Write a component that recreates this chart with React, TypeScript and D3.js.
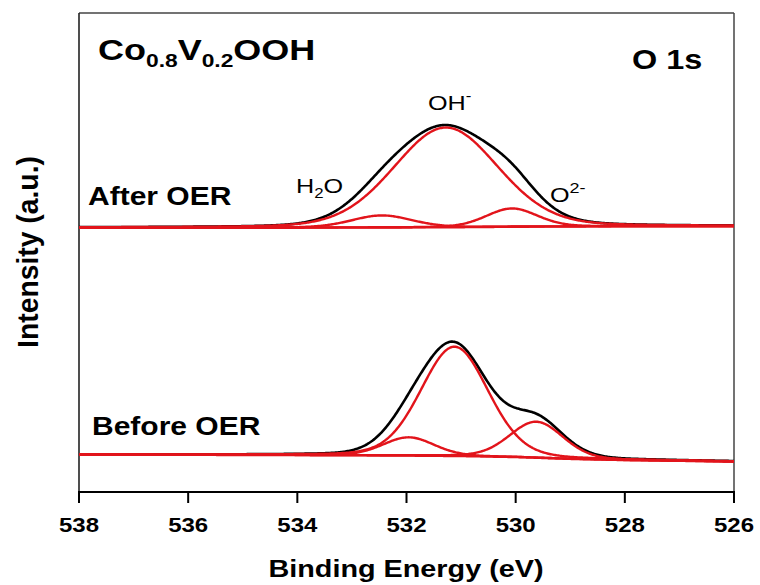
import React from "react";
import * as d3 from "d3";

// Binding-energy axis
const energyDomain = [538, 526];
const tickValues = [538, 536, 534, 532, 530, 528, 526];
const tickLabels = ["538", "536", "534", "532", "530", "528", "526"];

// Fitted O 1s components: H2O, OH-, O2-
const componentNames = ["H2O", "OH-", "O2-"];

// After OER fit
const afterCenters = [532.45, 531.28, 530.07];
const afterHeights = [2.5, 20.8, 3.8];
const afterFwhm = [1.3, 2.25, 1.1];

// Before OER fit
const beforeCenters = [531.96, 531.12, 529.62];
const beforeHeights = [3.8, 22.8, 7.5];
const beforeFwhm = [1.1, 1.45, 1.15];

// Shirley-type backgrounds (stacked, arbitrary units)
const backgroundEnergy = [538, 534, 532, 531, 530, 529, 528, 526];
const afterBackground = [55.2, 55.2, 55.25, 55.3, 55.4, 55.45, 55.5, 55.5];
const beforeBackground = [7.83, 7.72, 7.62, 7.52, 7.31, 6.93, 6.68, 6.37];

// Gaussian-Lorentzian mixing of the peak shape
const lorentzFraction = 0.15;

const W = 760;
const H = 585;
const margin = { left: 79, right: 26, top: 13, bottom: 93 };
const FONT = "'Liberation Sans', Arial, Helvetica, sans-serif";
const RED = "#e2141b";
const SX = 1.2;

function pseudoVoigt(e: number, c: number, h: number, w: number) {
  const t = ((e - c) * (e - c)) / (w * w);
  const g = Math.exp(-4 * Math.LN2 * t);
  const l = 1 / (1 + 4 * t);
  return h * ((1 - lorentzFraction) * g + lorentzFraction * l);
}

function buildSpectrum(centers: number[], heights: number[], fwhm: number[], bgValues: number[]) {
  const bg = d3.scaleLinear().domain(backgroundEnergy).range(bgValues);
  const grid = d3.range(538, 525.99, -0.02);
  const background = grid.map((e) => ({ e, v: bg(e) }));
  const components = centers.map((c, i) =>
    grid.map((e) => ({ e, v: bg(e) + pseudoVoigt(e, c, heights[i], fwhm[i]) }))
  );
  const envelope = grid.map((e) => ({
    e,
    v: bg(e) + d3.sum(centers, (c, i) => pseudoVoigt(e, c, heights[i], fwhm[i])),
  }));
  return { background, components, envelope };
}

function Label({ x, y, size, weight, anchor, children }: any) {
  return (
    <g transform={`translate(${x},${y}) scale(${SX},1)`}>
      <text
        x={0}
        y={0}
        fontFamily={FONT}
        fontSize={size}
        fontWeight={weight || "normal"}
        textAnchor={anchor || "start"}
        fill="#000"
      >
        {children}
      </text>
    </g>
  );
}

export default function App() {
  const x = d3
    .scaleLinear()
    .domain(energyDomain)
    .range([margin.left, W - margin.right]);
  const y = d3
    .scaleLinear()
    .domain([0, 100])
    .range([H - margin.bottom, margin.top]);
  const line = d3
    .line<{ e: number; v: number }>()
    .x((d) => x(d.e))
    .y((d) => y(d.v));

  const after = buildSpectrum(afterCenters, afterHeights, afterFwhm, afterBackground);
  const before = buildSpectrum(beforeCenters, beforeHeights, beforeFwhm, beforeBackground);

  const x0 = margin.left;
  const x1 = W - margin.right;
  const y0 = margin.top;
  const y1 = H - margin.bottom;

  const drawSpectrum = (s: ReturnType<typeof buildSpectrum>, key: string) => (
    <g key={key}>
      <path d={line(s.envelope) || ""} fill="none" stroke="#000" strokeWidth={2.6} />
      {s.components.map((c, i) => (
        <path
          key={componentNames[i]}
          d={line(c) || ""}
          fill="none"
          stroke={RED}
          strokeWidth={2.4}
        />
      ))}
      <path d={line(s.background) || ""} fill="none" stroke={RED} strokeWidth={2.6} />
    </g>
  );

  return (
    <svg
      width={W}
      height={H}
      style={{ position: "absolute", left: 0, top: 0, background: "#fff" }}
    >
      <rect x={0} y={0} width={W} height={H} fill="#fff" />

      {/* frame */}
      <line x1={x0} y1={y0} x2={x1} y2={y0} stroke="#444" strokeWidth={1.5} />
      <line x1={x1} y1={y0} x2={x1} y2={y1} stroke="#444" strokeWidth={1.5} />
      <line x1={x0} y1={y0} x2={x0} y2={y1} stroke="#222" strokeWidth={1.6} />

      {drawSpectrum(after, "after")}
      {drawSpectrum(before, "before")}

      {/* bottom axis */}
      <line x1={x0 - 1} y1={y1} x2={x1 + 1} y2={y1} stroke="#000" strokeWidth={2.2} />
      {tickValues.map((t, i) => (
        <g key={t}>
          <line x1={x(t)} y1={y1} x2={x(t)} y2={y1 + 11} stroke="#000" strokeWidth={2} />
          <Label x={x(t)} y={532} size={20} weight="bold" anchor="middle">
            {tickLabels[i]}
          </Label>
        </g>
      ))}
      <Label x={406} y={577} size={24} weight="bold" anchor="middle">
        Binding Energy (eV)
      </Label>

      <g transform="translate(38,252) rotate(-90) scale(1.18,1.2)">
        <text x={0} y={0} fontFamily={FONT} fontSize={24} fontWeight="bold" textAnchor="middle">
          Intensity (a.u.)
        </text>
      </g>

      {/* annotations */}
      <Label x={98} y={60} size={30} weight="bold">
        Co
        <tspan fontSize={19} dy={7}>0.8</tspan>
        <tspan dy={-7}>V</tspan>
        <tspan fontSize={19} dy={7}>0.2</tspan>
        <tspan dy={-7}>OOH</tspan>
      </Label>
      <Label x={632} y={69} size={27} weight="bold">
        O 1s
      </Label>
      <Label x={88} y={205} size={25} weight="bold">
        After OER
      </Label>
      <Label x={92} y={435} size={25} weight="bold">
        Before OER
      </Label>
      <Label x={428} y={110} size={21}>
        OH
        <tspan fontSize={14} dy={-9}>-</tspan>
      </Label>
      <Label x={296} y={193} size={21}>
        H
        <tspan fontSize={14} dy={5}>2</tspan>
        <tspan dy={-5}>O</tspan>
      </Label>
      <Label x={550} y={202} size={21}>
        O
        <tspan fontSize={15} dy={-9}>2-</tspan>
      </Label>
    </svg>
  );
}
